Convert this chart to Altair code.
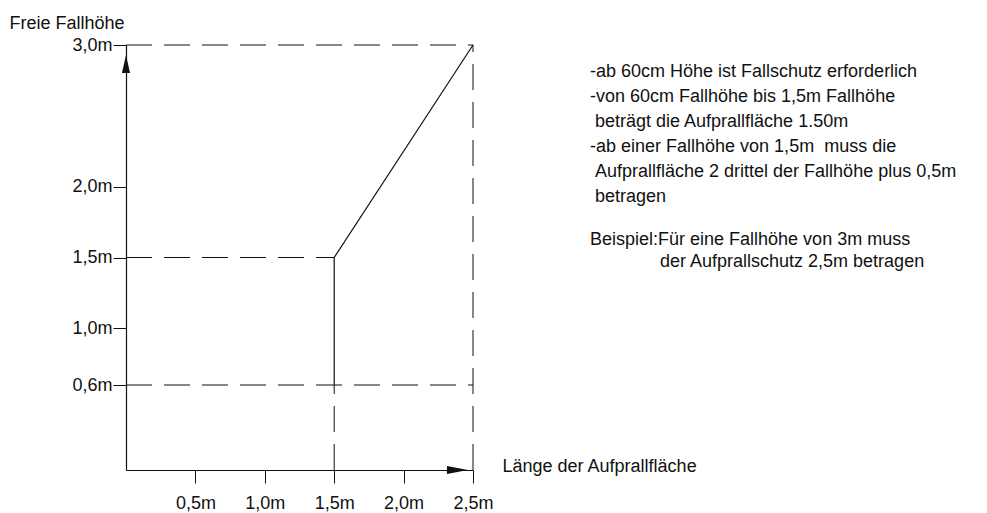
import altair as alt
import pandas as pd

# ---- data (metres) ----
fall_height = [0.6, 1.5, 3.0]      # free fall height
impact_length = [1.5, 1.5, 2.5]    # required length of impact area
x_ticks = [0.5, 1.0, 1.5, 2.0, 2.5]
y_ticks = [0.6, 1.0, 1.5, 2.0, 3.0]

# dashed guide segments
guide_x = [0.0, 0.0, 0.0, 1.5, 2.5]
guide_x2 = [2.5, 1.5, 2.5, 1.5, 2.5]
guide_y = [3.0, 1.5, 0.6, 0.0, 0.0]
guide_y2 = [3.0, 1.5, 0.6, 0.6, 3.0]

# axis arrow heads (data coords)
arrow_up_x = [0.0]
arrow_up_y = [2.866]
arrow_right_x = [2.388]
arrow_right_y = [0.0]

notes = [
    "-ab 60cm Höhe ist Fallschutz erforderlich",
    "-von 60cm Fallhöhe bis 1,5m Fallhöhe",
    "beträgt die Aufprallfläche 1.50m",
    "-ab einer Fallhöhe von 1,5m\u00a0\u00a0muss die",
    "Aufprallfläche 2 drittel der Fallhöhe plus 0,5m",
    "betragen",
    "Beispiel:Für eine Fallhöhe von 3m muss",
    "der Aufprallschutz 2,5m betragen",
]
note_indent = [0, 0, 5, 0, 5, 5, 0, 70]
note_y = [31.5, 56.5, 81.5, 106.5, 131.5, 156.5, 199.5, 221.5]

FONT = "Liberation Sans"
FS = 18
INK = "#111111"

line_df = pd.DataFrame({"x": impact_length, "y": fall_height, "o": list(range(len(fall_height)))})
guide_df = pd.DataFrame({"x": guide_x, "x2": guide_x2, "y": guide_y, "y2": guide_y2})
up_df = pd.DataFrame({"x": arrow_up_x, "y": arrow_up_y})
right_df = pd.DataFrame({"x": arrow_right_x, "y": arrow_right_y})

label_expr = "replace(format(datum.value, '.1f'), '.', ',') + 'm'"

common_axis = dict(
    labelExpr=label_expr, grid=False, titleAngle=0,
    titleAlign="left", titleBaseline="alphabetic",
    tickSize=13, tickWidth=1, tickColor=INK, domainColor=INK, domainWidth=1.2,
    labelFlush=False, labelOverlap=False,
    labelFont=FONT, titleFont=FONT, labelFontSize=FS, titleFontSize=FS,
    labelColor=INK, titleColor=INK, titleFontWeight="normal", labelFontWeight="normal",
)
x_axis = alt.Axis(values=x_ticks, title="Länge der Aufprallfläche", titleX=376, titleY=1,
                  labelPadding=11, **common_axis)
y_axis = alt.Axis(values=y_ticks, title="Freie Fallhöhe", titleX=-117, titleY=-17,
                  labelPadding=1, **common_axis)
xs = alt.Scale(domain=[0, 2.5], nice=False, zero=True)
ys = alt.Scale(domain=[0, 3.0], nice=False, zero=True)


def X(field):
    return alt.X(f"{field}:Q", scale=xs, axis=x_axis)


def Y(field):
    return alt.Y(f"{field}:Q", scale=ys, axis=y_axis)


guides = alt.Chart(guide_df).mark_rule(
    color=INK, strokeWidth=1, strokeDash=[26, 12]
).encode(x=X("x"), x2="x2:Q", y=Y("y"), y2="y2:Q")

curve = alt.Chart(line_df).mark_line(color=INK, strokeWidth=1.2).encode(
    x=X("x"), y=Y("y"), order="o:Q"
)

arrow_up = alt.Chart(up_df).mark_point(
    shape="M0,-1L0.45,1L-0.45,1Z", size=324, filled=True, color=INK, opacity=1, strokeWidth=0
).encode(x=X("x"), y=Y("y"))

arrow_right = alt.Chart(right_df).mark_point(
    shape="M1,0L-1,-0.38L-1,0.38Z", size=441, filled=True, color=INK, opacity=1, strokeWidth=0
).encode(x=X("x"), y=Y("y"))

text_layers = []
for line, dx, yy in zip(notes, note_indent, note_y):
    text_layers.append(
        alt.Chart(pd.DataFrame({"t": [line]})).mark_text(
            align="left", baseline="alphabetic", font=FONT, fontSize=FS, color=INK,
        ).encode(text="t:N", x=alt.value(464 + dx), y=alt.value(yy))
    )

chart = alt.layer(guides, curve, arrow_up, arrow_right, *text_layers).properties(
    width=347, height=425,
    padding={"left": 118, "top": 37, "right": 490, "bottom": 42},
    autosize=alt.AutoSizeParams(type="none"),
    background="white",
).configure(font=FONT).configure_view(stroke=None)

chart.save("out.html", embed_options={"renderer": "svg", "actions": False})
